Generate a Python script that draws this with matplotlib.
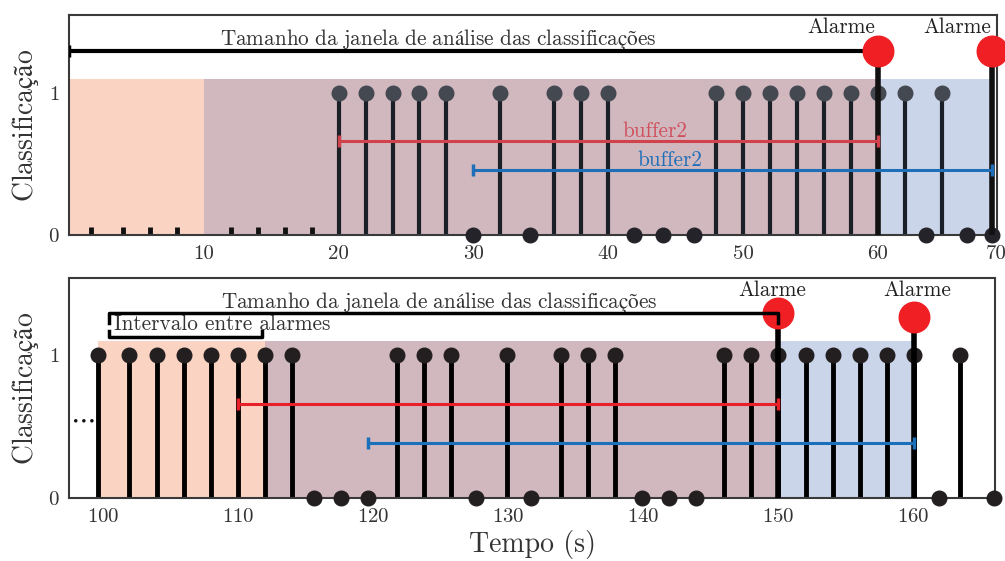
import matplotlib
matplotlib.use('Agg')
import matplotlib.pyplot as plt
import numpy as np

plt.rcParams['font.family'] = ['cmr10', 'DejaVu Serif']
plt.rcParams['mathtext.fontset'] = 'cm'
plt.rcParams['axes.formatter.use_mathtext'] = True

# ---- janela superior (0 a 70 s) ----
top_ones = [20, 22, 24, 26, 28, 32, 36, 38, 40, 48, 50, 52, 54, 56, 58, 60, 62, 64.8]
top_zeros = [30, 34.2, 41.9, 44.1, 46.4, 63.6, 66.6, 68.5]
top_small = [1.6, 4, 6, 8, 12, 14, 16, 18]
top_alarms = [60, 68.5]
top_alarm_y = [1.30, 1.30]
top_regions = [(0, 10, '#fbd3c3'), (10, 60, '#d0b8be'), (60, 68.5, '#cbd5ea')]
top_red = (20, 60, 0.66)
top_blue = (30, 68.5, 0.46)
top_window = (0, 60, 1.30)
top_ticks = [10, 20, 30, 40, 50, 60, 68.8]
top_ticklabels = ['10', '20', '30', '40', '50', '60', '70']

# ---- janela inferior (100 a 166 s) ----
bot_ones = [99.6, 101.9, 104, 106, 108, 110, 112, 114, 121.8, 123.8, 125.8, 129.9,
            133.9, 135.9, 137.9, 146, 148, 150, 152.1, 154.1, 156.1, 158.1, 160.1, 163.5]
bot_zeros = [115.6, 117.6, 119.6, 127.6, 131.7, 139.9, 141.9, 143.9, 161.9, 166]
bot_alarms = [150, 160.1]
bot_alarm_y = [1.30, 1.27]
bot_regions = [(99.6, 112, '#fbd3c3'), (112, 150, '#d0b8be'), (150, 160.1, '#cbd5ea')]
bot_red = (110, 150, 0.66)
bot_blue = (119.6, 160.1, 0.385)
bot_window = (100.45, 150, 1.30)
bot_interval = (100.45, 111.8, 1.126)
bot_ticks = [100, 110, 120, 130, 140, 150, 160]

shade_top = 1.1
text_size = 15.3


def tex(s):
    # texto em modo matemático para manter a fonte Computer Modern com acentos
    return r'$\mathrm{' + s.replace(' ', r'\ ') + '}$'


fig = plt.figure(figsize=(10.05, 5.61), dpi=100)
ax1 = fig.add_axes([0.0687, 0.581, 0.9234, 0.392])
ax2 = fig.add_axes([0.0687, 0.1118, 0.9214, 0.392])


def frame(ax):
    for s in ax.spines.values():
        s.set_color('#3a3a3a')
        s.set_linewidth(1.5)
    ax.tick_params(length=0, pad=7, labelsize=15, colors='#333333')
    ax.set_yticks([0, 1])
    ax.set_ylabel(tex('Classificação'), fontsize=20, color='#333333', labelpad=5)


def span_line(ax, seg, color, lw=2.2):
    x0, x1, y = seg
    ax.plot([x0, x1], [y, y], color=color, lw=lw, zorder=4)
    ax.plot([x0, x1], [y, y], '|', color=color, ms=9, mew=2.5, zorder=4)


# painel de cima
for a, b, c in top_regions:
    ax1.fill_between([a, b], 0, shade_top, color=c, lw=0, zorder=0)
ax1.vlines(top_ones, 0, 1, color='#1b1f27', lw=3, zorder=2)
ax1.plot(top_ones, np.ones(len(top_ones)), 'o', color='#444851', ms=10.5, zorder=3)
ax1.vlines(top_small, 0, 0.055, color='#111111', lw=3.5, zorder=2)
ax1.plot(top_zeros, np.zeros(len(top_zeros)), 'o', color='#25232a', ms=10.5,
         zorder=3, clip_on=False)
ax1.vlines(top_alarms, 0, top_alarm_y, color='#111111', lw=4, zorder=3)
ax1.plot(top_alarms, top_alarm_y, 'o', color='#f01f24', ms=22, zorder=5, clip_on=False)
span_line(ax1, top_red, '#d0434c')
span_line(ax1, top_blue, '#1f6fb8')
span_line(ax1, top_window, '#000000', lw=3)
ax1.text(43.5, 0.692, 'buffer2', color='#d0505e', fontsize=text_size, ha='center', va='baseline')
ax1.text(44.6, 0.49, 'buffer2', color='#1f6fb8', fontsize=text_size, ha='center', va='baseline')
ax1.text(27.4, 1.34, tex('Tamanho da janela de análise das classificações'), color='#333333',
         fontsize=text_size, ha='center', va='baseline')
ax1.text(57.3, 1.425, 'Alarme', color='#222222', fontsize=text_size, ha='center', va='baseline')
ax1.text(65.9, 1.425, 'Alarme', color='#222222', fontsize=text_size, ha='center', va='baseline')
ax1.set_xlim(0, 68.85)
ax1.set_ylim(0, 1.55)
ax1.set_xticks(top_ticks)
ax1.set_xticklabels(top_ticklabels)
frame(ax1)

# painel de baixo
for a, b, c in bot_regions:
    ax2.fill_between([a, b], 0, shade_top, color=c, lw=0, zorder=0)
ax2.vlines(bot_ones, 0, 1, color='#000000', lw=3.5, zorder=2)
ax2.plot(bot_ones, np.ones(len(bot_ones)), 'o', color='#231f20', ms=10.5, zorder=3)
ax2.plot(bot_zeros, np.zeros(len(bot_zeros)), 'o', color='#231f20', ms=10.5,
         zorder=3, clip_on=False)
ax2.vlines(bot_alarms, 0, bot_alarm_y, color='#000000', lw=4, zorder=3)
ax2.plot(bot_alarms, bot_alarm_y, 'o', color='#f01f24', ms=22, zorder=5, clip_on=False)
span_line(ax2, bot_red, '#e8202a')
span_line(ax2, bot_blue, '#1a70ba')

# colchetes da janela e do intervalo
x0, x1, y = bot_window
ax2.plot([x0, x0, x1, x1], [y - 0.07, y, y, y - 0.07], color='#000000', lw=2.5, zorder=6)
x0, x1, y = bot_interval
ax2.plot([x0, x0, x1, x1], [y + 0.045, y, y, y + 0.045], color='#000000', lw=2.5, zorder=6)

ax2.text(124.9, 1.335, tex('Tamanho da janela de análise das classificações'), color='#333333',
         fontsize=text_size, ha='center', va='baseline')
ax2.text(108.8, 1.18, 'Intervalo entre alarmes', color='#333333',
         fontsize=text_size, ha='center', va='baseline')
ax2.text(149.6, 1.414, 'Alarme', color='#222222', fontsize=text_size, ha='center', va='baseline')
ax2.text(160.3, 1.414, 'Alarme', color='#222222', fontsize=text_size, ha='center', va='baseline')
ax2.text(98.45, 0.5, r'$\cdots$', color='#111111', fontsize=20,
         ha='center', va='baseline')
ax2.set_xlim(97.48, 166.07)
ax2.set_ylim(0, 1.54)
ax2.set_xticks(bot_ticks)
ax2.set_xlabel('Tempo (s)', fontsize=20, color='#333333', labelpad=3)
frame(ax2)

fig.savefig('out.png', dpi=100)
